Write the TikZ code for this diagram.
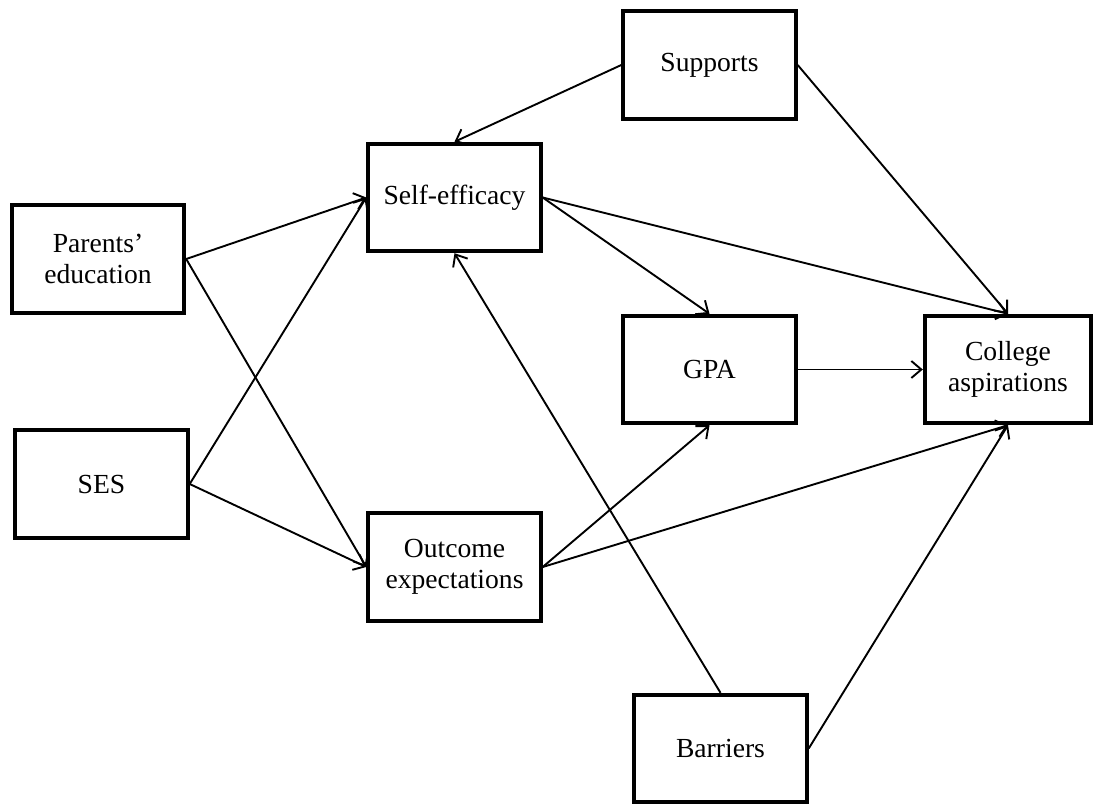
\documentclass[tikz,border=0pt]{standalone}
\usepackage{fontspec}
\setmainfont{Liberation Serif}
\usetikzlibrary{arrows.meta}
\begin{document}
\begin{tikzpicture}[x=0.5pt,y=-0.5pt,
  box/.style={draw, line width=1.9pt, minimum width=86.3pt, minimum height=53.8pt,
    align=center, inner sep=0pt, font=\fontsize{13.8}{15.5}\selectfont},
  link/.style={line width=0.95pt, -{Straight Barb[length=5pt,width=8.5pt]}}]
\useasboundingbox (0,0) rectangle (1094,804);

% variables
\node[box] (sup) at (709.5,65)   {Supports};
\node[box] (se)  at (454.5,197.5){Self-efficacy};
\node[box] (par) at (98,259)     {Parents’\\education};
\node[box] (ses) at (101.5,484)  {SES};
\node[box] (gpa) at (709.5,369.5){GPA};
\node[box, minimum width=83.3pt] (col) at (1008,369.5){College\\aspirations};
\node[box] (out) at (454.5,567)  {Outcome\\expectations};
\node[box] (bar) at (720.5,748.5){Barriers};

% paths
\draw[link] (sup.west)  -- (se.north);
\draw[link] (sup.east)  -- (col.north);
\draw[link] (par.east)  -- (se.west);
\draw[link] (par.east)  -- (out.west);
\draw[link] (ses.east)  -- (se.west);
\draw[link] (ses.east)  -- (out.west);
\draw[link] (se.east)   -- (gpa.north);
\draw[link] (se.east)   -- (col.north);
\draw[link] (gpa.east)  -- (col.west);
\draw[link] (out.east)  -- (gpa.south);
\draw[link] (out.east)  -- (col.south);
\draw[link] (bar.north) -- (se.south);
\draw[link] (bar.east)  -- (col.south);
\end{tikzpicture}
\end{document}
